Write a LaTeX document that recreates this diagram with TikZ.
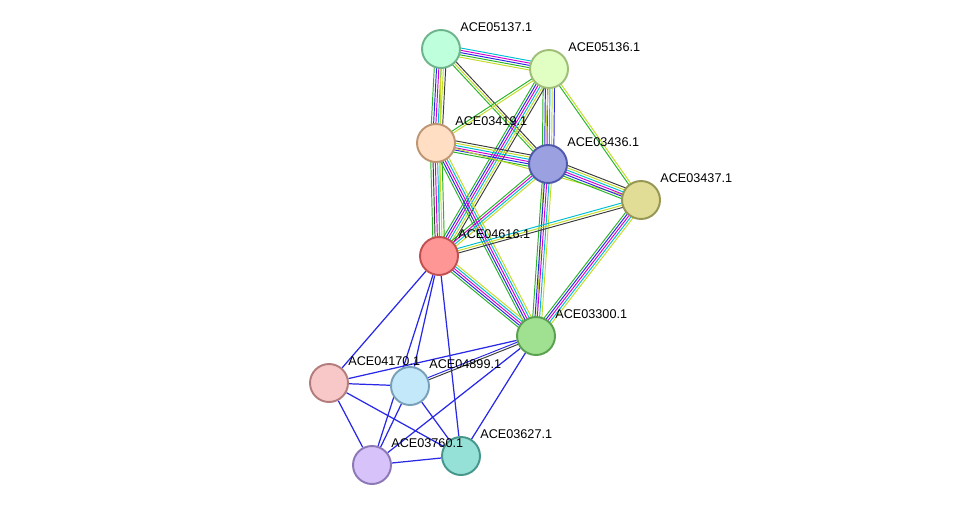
\documentclass[tikz,border=0pt]{standalone}
\usepackage{fontspec}
\setmainfont{Liberation Sans}
\usetikzlibrary{calc,backgrounds}

\definecolor{sgreen}{RGB}{40,180,40}
\definecolor{sblue}{RGB}{40,40,230}
\definecolor{smag}{RGB}{210,0,210}
\definecolor{scyan}{RGB}{0,190,210}
\definecolor{syell}{RGB}{195,220,40}
\definecolor{sblack}{RGB}{60,60,60}

\tikzset{
  prot/.style={circle, minimum size=0.76cm, line width=1.1pt, inner sep=0pt},
  lbl/.style={anchor=west, inner sep=0pt, font=\fontsize{7.2}{8}\selectfont}
}

% multi-coloured edge: from, to, count, colours
\newcommand{\sedge}[4]{%
  \foreach \c [count=\i] in {#4}{%
    \pgfmathsetmacro\off{(\i-(#3+1)/2)*1.3}
    \draw[\c, line width=0.55pt] ($(#1)!\off pt!90:(#2)$) -- ($(#2)!\off pt!-90:(#1)$);
  }%
}

\begin{document}
\begin{tikzpicture}[x=0.02cm, y=-0.02cm]
	\useasboundingbox (0,0) rectangle (976,511);
	
	%% proteins
	\node [prot, fill={rgb,255:red,190;green,255;blue,220}, draw={rgb,255:red,110;green,180;blue,140}] (a05137) at (441,49) {};
	\node [prot, fill={rgb,255:red,225;green,255;blue,195}, draw={rgb,255:red,160;green,190;blue,120}] (a05136) at (549,69) {};
	\node [prot, fill={rgb,255:red,255;green,222;blue,195}, draw={rgb,255:red,190;green,150;blue,115}] (a03419) at (436,143) {};
	\node [prot, fill={rgb,255:red,155;green,160;blue,225}, draw={rgb,255:red,80;green,90;blue,170}] (a03436) at (548,164) {};
	\node [prot, fill={rgb,255:red,225;green,220;blue,150}, draw={rgb,255:red,150;green,150;blue,85}] (a03437) at (641,200) {};
	\node [prot, fill={rgb,255:red,255;green,150;blue,150}, draw={rgb,255:red,195;green,80;blue,80}] (a04616) at (439,256) {};
	\node [prot, fill={rgb,255:red,160;green,225;blue,145}, draw={rgb,255:red,90;green,160;blue,80}] (a03300) at (536,336) {};
	\node [prot, fill={rgb,255:red,248;green,200;blue,200}, draw={rgb,255:red,180;green,125;blue,125}] (a04170) at (329,383) {};
	\node [prot, fill={rgb,255:red,195;green,232;blue,250}, draw={rgb,255:red,120;green,160;blue,185}] (a04899) at (410,386) {};
	\node [prot, fill={rgb,255:red,215;green,195;blue,250}, draw={rgb,255:red,140;green,120;blue,180}] (a03760) at (372,465) {};
	\node [prot, fill={rgb,255:red,150;green,225;blue,215}, draw={rgb,255:red,70;green,150;blue,140}] (a03627) at (461,456) {};
	
	%% labels
	\node [lbl] (t05137) at ($(a05137)+(19,-22)$) {ACE05137.1};
	\node [lbl] (t05136) at ($(a05136)+(19,-22)$) {ACE05136.1};
	\node [lbl] (t03419) at ($(a03419)+(19,-22)$) {ACE03419.1};
	\node [lbl] (t03436) at ($(a03436)+(19,-22)$) {ACE03436.1};
	\node [lbl] (t03437) at ($(a03437)+(19,-22)$) {ACE03437.1};
	\node [lbl] (t04616) at ($(a04616)+(19,-22)$) {ACE04616.1};
	\node [lbl] (t03300) at ($(a03300)+(19,-22)$) {ACE03300.1};
	\node [lbl] (t04170) at ($(a04170)+(19,-22)$) {ACE04170.1};
	\node [lbl] (t04899) at ($(a04899)+(19,-22)$) {ACE04899.1};
	\node [lbl] (t03760) at ($(a03760)+(19,-22)$) {ACE03760.1};
	\node [lbl] (t03627) at ($(a03627)+(19,-22)$) {ACE03627.1};
	
	%% interactions
	\begin{pgfonlayer}{background}
	\sedge{a05137}{a05136}{5}{syell,sgreen,sblue,smag,scyan}
	\sedge{a05137}{a03419}{6}{sgreen,sblue,smag,scyan,syell,sblack}
	\sedge{a05137}{a03436}{3}{sgreen,syell,sblack}
	\sedge{a05137}{a04616}{1}{syell}
	\sedge{a05136}{a03419}{2}{sgreen,syell}
	\sedge{a05136}{a03436}{6}{sgreen,sblue,smag,scyan,syell,sblue}
	\sedge{a05136}{a03437}{2}{sgreen,syell}
	\sedge{a05136}{a04616}{6}{sgreen,sblue,smag,scyan,syell,sblack}
	\sedge{a05136}{a03300}{1}{syell}
	\sedge{a03419}{a03436}{6}{sgreen,sblue,smag,scyan,syell,sblack}
	\sedge{a03419}{a03437}{1}{syell}
	\sedge{a03419}{a04616}{6}{sgreen,sblack,smag,scyan,syell,sgreen}
	\sedge{a03419}{a03300}{5}{sgreen,sblue,smag,scyan,syell}
	\sedge{a03436}{a03437}{6}{sgreen,sblue,smag,scyan,syell,sblack}
	\sedge{a03436}{a04616}{4}{sgreen,smag,scyan,syell}
	\sedge{a03436}{a03300}{5}{sgreen,sblue,smag,scyan,syell}
	\sedge{a03437}{a04616}{3}{scyan,syell,sblack}
	\sedge{a03437}{a03300}{5}{sgreen,sblue,smag,scyan,syell}
	\sedge{a04616}{a03300}{5}{sgreen,sblue,smag,scyan,syell}
	\sedge{a03300}{a04899}{2}{sblue,sblack}
	\foreach \u/\v in {a04616/a04170, a04616/a04899, a04616/a03760, a04616/a03627,
	    a03300/a04170, a03300/a03760, a03300/a03627,
	    a04170/a04899, a04170/a03760, a04170/a03627,
	    a04899/a03760, a04899/a03627, a03760/a03627}
	  \draw [sblue, line width=0.7pt] (\u) -- (\v);
	\end{pgfonlayer}
\end{tikzpicture}
\end{document}
